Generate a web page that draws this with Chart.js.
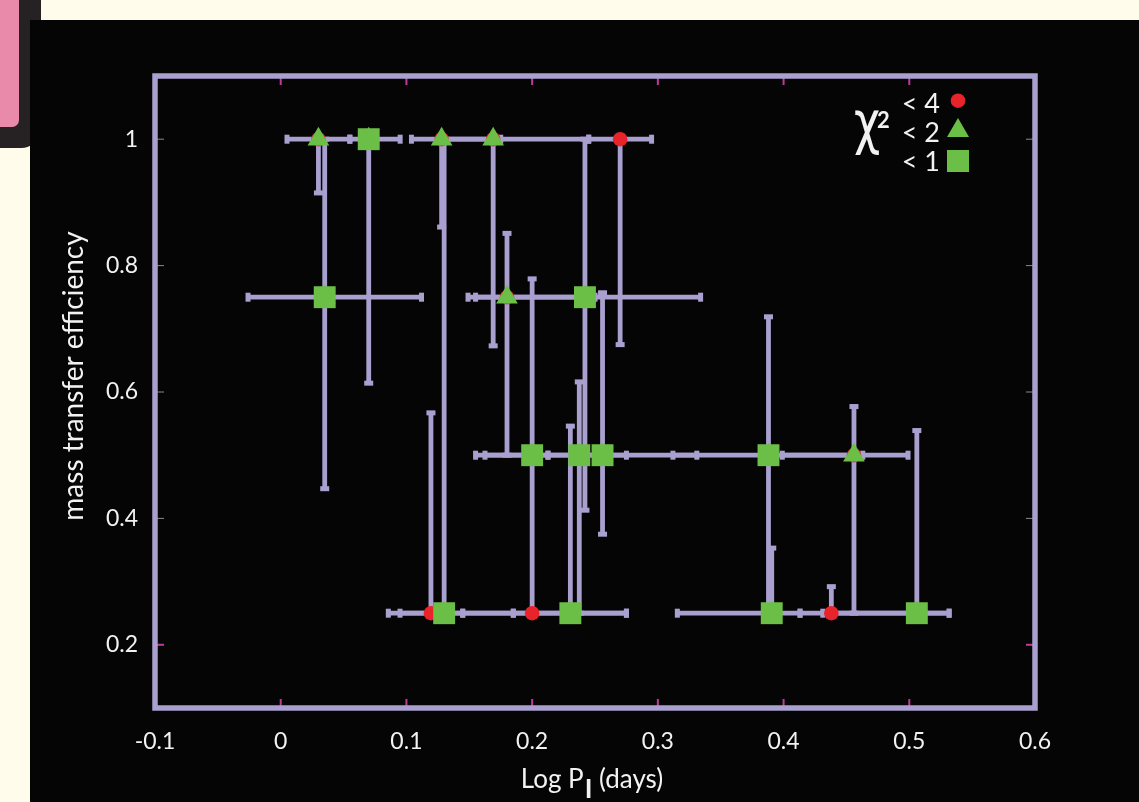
<!DOCTYPE html>
<html>
<head>
<meta charset="utf-8">
<script src="https://cdn.jsdelivr.net/npm/chart.js@4/dist/chart.umd.min.js"></script>
<style>
  html, body { margin: 0; padding: 0; width: 1139px; height: 802px; overflow: hidden; background: #fffcec; }
  #tabOuter { position: absolute; left: 0; top: 0; width: 41px; height: 148px; background: #262223; border-bottom-right-radius: 20px; }
  #tabInner { position: absolute; left: 0; top: 0; width: 19px; height: 127px; background: #e98aab; border-bottom-right-radius: 7px; }
  #panel { position: absolute; left: 30px; top: 20px; width: 1109px; height: 782px; background: #050505; }
  canvas { position: absolute; left: 0; top: 0; }
</style>
</head>
<body>
<div id="tabOuter"><div id="tabInner"></div></div>
<div id="panel"><canvas id="c" width="1109" height="782"></canvas></div>
<script>
// ---- data ----
const logP    = [0.030, 0.070, 0.128, 0.169, 0.270, 0.035, 0.180, 0.242, 0.200, 0.2375, 0.256, 0.388, 0.456, 0.1195, 0.130, 0.200, 0.2304, 0.3906, 0.438, 0.506];
const effic   = [1.00, 1.00, 1.00, 1.00, 1.00, 0.75, 0.75, 0.75, 0.50, 0.50, 0.50, 0.50, 0.50, 0.25, 0.25, 0.25, 0.25, 0.25, 0.25, 0.25];
const logPLo  = [0.005, 0.055, 0.104, 0.130, 0.245, -0.026, 0.149, 0.155, 0.1625, 0.155, 0.2126, 0.312, 0.399, 0.0856, 0.0949, 0.185, 0.1448, 0.3155, 0.4312, 0.4131];
const logPHi  = [0.055, 0.095, 0.175, 0.245, 0.295, 0.112, 0.250, 0.334, 0.2126, 0.275, 0.331, 0.463, 0.499, 0.1448, 0.185, 0.275, 0.275, 0.4131, 0.5317, 0.5317];
const efficLo = [0.915, 0.614, 0.861, 0.673, 0.675, 0.447, 0.500, 0.413, 0.25, 0.25, 0.375, 0.25, 0.25, 0.25, 0.25, 0.25, 0.25, 0.25, 0.25, 0.25];
const efficHi = [1.00, 1.00, 1.00, 1.00, 1.00, 1.00, 0.851, 1.00, 0.779, 0.616, 0.757, 0.719, 0.577, 0.567, 1.00, 0.25, 0.546, 0.353, 0.292, 0.539];
const chi2Max = [2, 1, 2, 2, 4, 1, 2, 1, 1, 1, 1, 1, 2, 4, 1, 4, 1, 1, 4, 1];   // fit quality: chi^2 < value
const xTicks = [-0.1, 0, 0.1, 0.2, 0.3, 0.4, 0.5, 0.6];
const yTicks = [0.2, 0.4, 0.6, 0.8, 1.0];
const legendLevels = ['< 4', '< 2', '< 1'];

// ---- styles ----
const LAV = '#a9a0cf';
const RED = '#e8232a';
const GREEN = '#6bbf47';
const MAG = '#c2399b';
const TXT = '#f2f2f2';
const FONT = 'Lato, "Open Sans", sans-serif';

const pts = (maxChi) => logP.map((v, i) => ({ x: v, y: effic[i], q: chi2Max[i] })).filter(p => p.q <= maxChi);

const errorBars = {
  id: 'errorBars',
  beforeDatasetsDraw(chart) {
    const { ctx, scales: { x, y }, chartArea: a } = chart;
    ctx.save();
    // frame ticks
    ctx.lineWidth = 2;
    xTicks.forEach(v => {
      const px = x.getPixelForValue(v);
      if (px <= a.left + 3 || px >= a.right - 3) return;
      ctx.strokeStyle = MAG;
      ctx.beginPath(); ctx.moveTo(px, a.bottom); ctx.lineTo(px, a.bottom - 9); ctx.stroke();
      ctx.beginPath(); ctx.moveTo(px, a.top); ctx.lineTo(px, a.top + 9); ctx.stroke();
    });
    yTicks.forEach(v => {
      const py = y.getPixelForValue(v);
      if (v === 0.2) { ctx.strokeStyle = MAG; ctx.lineWidth = 2; } else { ctx.strokeStyle = '#8a8a8a'; ctx.lineWidth = 1; }
      ctx.beginPath(); ctx.moveTo(a.left, py); ctx.lineTo(a.left + 9, py); ctx.stroke();
      ctx.beginPath(); ctx.moveTo(a.right, py); ctx.lineTo(a.right - 9, py); ctx.stroke();
    });
    // error bars
    ctx.strokeStyle = LAV; ctx.fillStyle = LAV; ctx.lineWidth = 4.8; ctx.lineCap = 'butt';
    for (let i = 0; i < logP.length; i++) {
      const px = x.getPixelForValue(logP[i]);
      const py = y.getPixelForValue(effic[i]);
      const x0 = x.getPixelForValue(logPLo[i]), x1 = x.getPixelForValue(logPHi[i]);
      const y0 = y.getPixelForValue(efficLo[i]), y1 = y.getPixelForValue(efficHi[i]);
      ctx.beginPath(); ctx.moveTo(x0, py); ctx.lineTo(x1, py); ctx.stroke();
      ctx.fillRect(x0 - 2.5, py - 4.5, 5, 9);
      ctx.fillRect(x1 - 2.5, py - 4.5, 5, 9);
      if (Math.abs(y0 - y1) > 0.5) {
        ctx.beginPath(); ctx.moveTo(px, y0); ctx.lineTo(px, y1); ctx.stroke();
        if (Math.abs(y0 - py) > 0.5) ctx.fillRect(px - 4.5, y0 - 2.5, 9, 5);
        if (Math.abs(y1 - py) > 0.5) ctx.fillRect(px - 4.5, y1 - 2.5, 9, 5);
      }
    }
    // frame
    ctx.lineWidth = 5.5; ctx.strokeStyle = LAV;
    ctx.strokeRect(a.left, a.top, a.right - a.left, a.bottom - a.top);
    ctx.restore();
  },
  afterDraw(chart) {
    const { ctx } = chart;
    ctx.save();
    ctx.fillStyle = TXT;
    // y title
    ctx.save();
    ctx.translate(53, 356);
    ctx.rotate(-Math.PI / 2);
    ctx.font = '28px ' + FONT;
    ctx.textAlign = 'center'; ctx.textBaseline = 'alphabetic';
    ctx.fillText('mass transfer efficiency', 0, 0);
    ctx.restore();
    // x title with subscript
    ctx.textBaseline = 'alphabetic'; ctx.textAlign = 'left';
    ctx.font = '26px ' + FONT;
    const a1 = 'Log P', a3 = ' (days)';
    const w1 = ctx.measureText(a1).width, w3 = ctx.measureText(a3).width;
    ctx.font = 'bold 26px ' + FONT;
    const w2 = ctx.measureText('I').width + 1;
    const total = w1 + w2 + w3;
    let sx = 562 - total / 2;
    const by = 768;
    ctx.font = '26px ' + FONT;
    ctx.fillText(a1, sx, by);
    ctx.font = 'bold 26px ' + FONT;
    ctx.fillText('I', sx + w1 + 1, by + 10);
    ctx.font = '26px ' + FONT;
    ctx.fillText(a3, sx + w1 + w2, by);
    // legend
    ctx.save();
    ctx.translate(824, 123);
    ctx.scale(0.78, 1);
    ctx.font = '58px "DejaVu Sans", sans-serif';
    ctx.textAlign = 'left';
    ctx.fillText('\u03C7', 0, 0);
    ctx.restore();
    ctx.font = 'bold 22px ' + FONT;
    ctx.textAlign = 'left';
    ctx.fillText('2', 847, 108);
    ctx.font = '27px ' + FONT;
    ctx.textAlign = 'right'; ctx.textBaseline = 'middle';
    const rows = [84, 113, 142];
    legendLevels.forEach((t, k) => ctx.fillText(t, 910, rows[k]));
    ctx.fillStyle = RED;
    ctx.beginPath(); ctx.arc(928, 80.7, 7.3, 0, Math.PI * 2); ctx.fill();
    ctx.fillStyle = GREEN;
    ctx.beginPath(); ctx.moveTo(928, 98); ctx.lineTo(939, 117); ctx.lineTo(917, 117); ctx.closePath(); ctx.fill();
    ctx.fillRect(917, 130, 22, 22);
    ctx.restore();
  }
};

new Chart(document.getElementById('c'), {
  type: 'scatter',
  data: {
    datasets: [
      { label: 'chi2 < 1', data: pts(1), pointStyle: 'rect', pointRadius: 15.5, backgroundColor: GREEN, borderWidth: 0, order: 1 },
      { label: 'chi2 < 2', data: pts(2), pointStyle: 'triangle', pointRadius: 12.5, backgroundColor: GREEN, borderWidth: 0, order: 2 },
      { label: 'chi2 < 4', data: pts(4), pointStyle: 'circle', pointRadius: 7.3, backgroundColor: RED, borderWidth: 0, order: 3 }
    ]
  },
  options: {
    responsive: false,
    animation: false,
    events: [],
    layout: { padding: { left: 0, top: 56, right: 104, bottom: 0 } },
    plugins: { legend: { display: false }, tooltip: { enabled: false } },
    scales: {
      x: {
        type: 'linear', min: -0.1, max: 0.6,
        afterBuildTicks: s => { s.ticks = xTicks.map(v => ({ value: v })); },
        afterFit: s => { s.height = 94; },
        grid: { display: false, drawTicks: false },
        border: { display: false },
        ticks: { color: TXT, font: { family: FONT, size: 23 }, padding: 20, maxRotation: 0,
          callback: v => (Math.round(v * 10) / 10).toString() }
      },
      y: {
        type: 'linear', min: 0.1, max: 1.1,
        afterBuildTicks: s => { s.ticks = yTicks.map(v => ({ value: v })); },
        afterFit: s => { s.width = 125; },
        grid: { display: false, drawTicks: false },
        border: { display: false },
        ticks: { color: TXT, font: { family: FONT, size: 23 }, padding: 17,
          callback: v => (Math.round(v * 10) / 10).toString() }
      }
    }
  },
  plugins: [errorBars]
});
</script>
</body>
</html>
